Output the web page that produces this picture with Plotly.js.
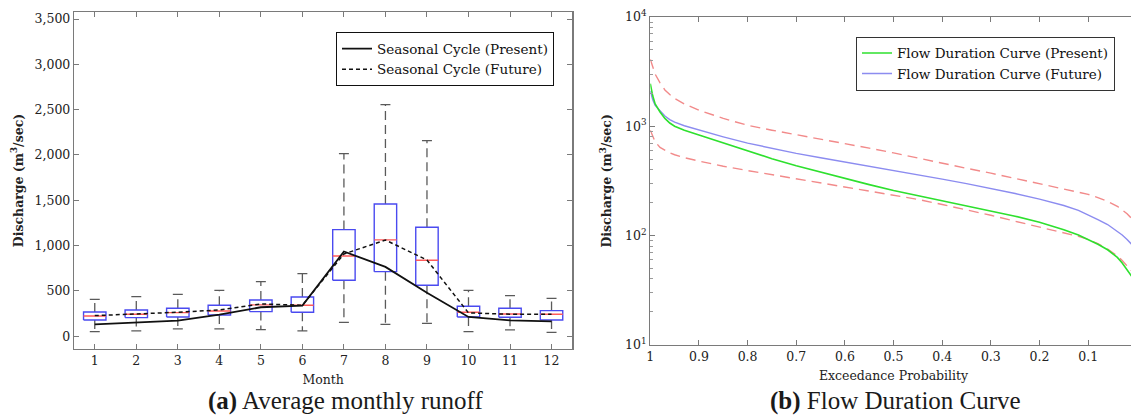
<!DOCTYPE html>
<html><head><meta charset="utf-8">
<script src="https://cdn.plot.ly/plotly-3.0.1.min.js"></script>
<style>html,body{margin:0;padding:0;overflow:hidden;background:#fff}#chart{width:1140px;height:417px}</style>
</head><body><div id="chart"></div>
<script>
// ---- (a) Average monthly runoff ----
const months = [1,2,3,4,5,6,7,8,9,10,11,12];
const boxQ1      = [180,206,213,235,272,265,618,713,563,213,210,180];
const boxMedian  = [224,243,261,279,346,342,886,1063,838,265,246,243];
const boxQ3      = [268,290,309,342,401,434,1177,1460,1202,331,309,283];
const whiskerLow = [51,59,81,81,74,59,154,132,143,51,70,44];
const whiskerHigh= [408,438,463,507,603,691,2015,2555,2158,507,449,419];
const presentCycle = [132,151,173,239,320,338,935,765,480,213,176,165];
const futureCycle  = [228,243,265,290,357,342,908,1062,841,258,243,243];
const monthTicks = ['1','2','3','4','5','6','7','8','9','10','11','12'];
const dischargeTicks = [0,500,1000,1500,2000,2500,3000,3500];
const dischargeTickText = ['0','500','1,000','1,500','2,000','2,500','3,000','3,500'];

// ---- (b) Flow duration curve ----
const exceedProb = [1.0,0.995,0.99,0.98,0.97,0.96,0.95,0.93,0.9,0.85,0.8,0.75,0.7,0.65,0.6,0.55,0.5,0.45,0.4,0.35,0.3,0.25,0.2,0.15,0.12,0.1,0.08,0.06,0.04,0.03,0.02,0.01,0.005,0.0];
const fdcPresent = [2450,1900,1600,1350,1180,1070,1000,920,830,700,590,505,435,380,330,292,258,232,208,187,168,150,132,113,101,92,83,74,63,56,49,42,38,35];
const fdcFuture  = [2100,1750,1550,1370,1240,1150,1090,1010,920,800,700,625,565,515,472,432,395,360,328,298,270,242,215,188,170,155,140,126,110,101,92,83,78,72];
const fdcUpper   = [4100,3500,3000,2500,2150,1950,1800,1600,1400,1180,1020,920,840,765,700,630,570,510,460,412,372,333,298,268,250,238,222,205,185,172,158,142,132,120];
const fdcLower   = [920,800,720,640,600,570,548,515,480,430,393,360,330,302,278,255,235,214,192,172,153,135,120,106,98,92,84,75,65,59,53,47,44,41];
const probTicks = [1,0.9,0.8,0.7,0.6,0.5,0.4,0.3,0.2,0.1];
const probTickText = ['1','0.9','0.8','0.7','0.6','0.5','0.4','0.3','0.2','0.1'];
const logTicks = [10,100,1000,10000];
const logTickText = ['10<sup>1</sup>','10<sup>2</sup>','10<sup>3</sup>','10<sup>4</sup>'];

// build box-plot geometry from the statistics
const HB = 0.27, HC = 0.12;
const bx=[],by=[],mx=[],my=[],wx=[],wy=[],cx=[],cy=[];
months.forEach((m,i)=>{
  bx.push(m-HB,m+HB,m+HB,m-HB,m-HB,null); by.push(boxQ1[i],boxQ1[i],boxQ3[i],boxQ3[i],boxQ1[i],null);
  mx.push(m-HB,m+HB,null); my.push(boxMedian[i],boxMedian[i],null);
  wx.push(m,m,null,m,m,null); wy.push(boxQ3[i],whiskerHigh[i],null,boxQ1[i],whiskerLow[i],null);
  cx.push(m-HC,m+HC,null,m-HC,m+HC,null); cy.push(whiskerHigh[i],whiskerHigh[i],null,whiskerLow[i],whiskerLow[i],null);
});

const FONT = 'DejaVu Serif';
const traces = [
  {x:wx,y:wy,mode:'lines',line:{color:'#5a5a5a',width:1.3,dash:'9px,5px'},showlegend:false,hoverinfo:'skip',xaxis:'x',yaxis:'y'},
  {x:cx,y:cy,mode:'lines',line:{color:'#5a5a5a',width:1.3},showlegend:false,hoverinfo:'skip',xaxis:'x',yaxis:'y'},
  {x:bx,y:by,mode:'lines',line:{color:'#4a4af0',width:1.4},showlegend:false,hoverinfo:'skip',xaxis:'x',yaxis:'y'},
  {x:mx,y:my,mode:'lines',line:{color:'#ff5a5a',width:1.4},showlegend:false,hoverinfo:'skip',xaxis:'x',yaxis:'y'},
  {x:months,y:presentCycle,mode:'lines',name:'Seasonal Cycle (Present)',line:{color:'#111',width:1.8},xaxis:'x',yaxis:'y',legend:'legend'},
  {x:months,y:futureCycle,mode:'lines',name:'Seasonal Cycle (Future)',line:{color:'#111',width:1.5,dash:'4px,3px'},xaxis:'x',yaxis:'y',legend:'legend'},
  {x:exceedProb,y:fdcUpper,mode:'lines',line:{color:'#f28a8a',width:1.4,dash:'10px,6px'},showlegend:false,xaxis:'x2',yaxis:'y2'},
  {x:exceedProb,y:fdcLower,mode:'lines',line:{color:'#f28a8a',width:1.4,dash:'10px,6px'},showlegend:false,xaxis:'x2',yaxis:'y2'},
  {x:exceedProb,y:fdcFuture,mode:'lines',name:'Flow Duration Curve (Future)',line:{color:'#8c8cf0',width:1.4},xaxis:'x2',yaxis:'y2',legend:'legend2'},
  {x:exceedProb,y:fdcPresent,mode:'lines',name:'Flow Duration Curve (Present)',line:{color:'#2ee02e',width:1.6},xaxis:'x2',yaxis:'y2',legend:'legend2'}
];

const axBase = {showline:true,linecolor:'#7a7a7a',linewidth:1.2,mirror:'ticks',ticks:'inside',ticklen:5,tickcolor:'#7a7a7a',tickwidth:1,showgrid:false,zeroline:false,tickfont:{family:FONT,size:12.5,color:'#222'}};
const titleFont = {family:FONT,size:12.5,color:'#222'};

const layout = {
  width:1140,height:417,margin:{l:0,r:0,t:0,b:0},paper_bgcolor:'#fff',plot_bgcolor:'#fff',
  font:{family:FONT,size:12,color:'#222'},
  xaxis:Object.assign({},axBase,{domain:[0.06491,0.50202],range:[0.5,12.5],tickvals:months,ticktext:monthTicks,anchor:'y',
    title:{text:'Month',font:titleFont,standoff:8}}),
  yaxis:Object.assign({},axBase,{domain:[0.1638,0.9705],range:[-137,3574],tickvals:dischargeTicks,ticktext:dischargeTickText,anchor:'x',
    title:{text:'<b>Discharge (m<sup>3</sup>/sec)</b>',font:titleFont,standoff:8}}),
  xaxis2:Object.assign({},axBase,{domain:[0.57044,0.99719],range:[1,0],tickvals:probTicks,ticktext:probTickText,anchor:'y2',
    title:{text:'Exceedance Probability',font:titleFont,standoff:8}}),
  yaxis2:Object.assign({},axBase,{domain:[0.1734,0.9592],type:'log',range:[1,4],tickvals:logTicks,ticktext:logTickText,anchor:'x2',
    minor:{ticks:'inside',ticklen:3,tickcolor:'#9a9a9a',dtick:'D1',showgrid:false},
    title:{text:'<b>Discharge (m<sup>3</sup>/sec)</b>',font:titleFont,standoff:10}}),
  legend:{x:554/1140,xanchor:'right',y:(417-32.3)/417,yanchor:'top',bordercolor:'#111',borderwidth:1,bgcolor:'#fff',
    font:{family:FONT,size:13.5,color:'#111'},tracegroupgap:0},
  legend2:{x:1115/1140,xanchor:'right',y:(417-36.7)/417,yanchor:'top',bordercolor:'#333',borderwidth:1,bgcolor:'#fff',
    font:{family:FONT,size:13.5,color:'#111'},traceorder:'reversed'},
  annotations:[
    {text:'<b>(a)</b> Average monthly runoff',x:345/1140,y:(417-401)/417,xref:'paper',yref:'paper',xanchor:'center',yanchor:'middle',showarrow:false,
      font:{family:'Liberation Serif',size:25,color:'#1a1a1a'}},
    {text:'<b>(b)</b> Flow Duration Curve',x:895/1140,y:(417-401)/417,xref:'paper',yref:'paper',xanchor:'center',yanchor:'middle',showarrow:false,
      font:{family:'Liberation Serif',size:25,color:'#1a1a1a'}}
  ]
};
Plotly.newPlot('chart',traces,layout,{displayModeBar:false,staticPlot:true});
</script></body></html>
